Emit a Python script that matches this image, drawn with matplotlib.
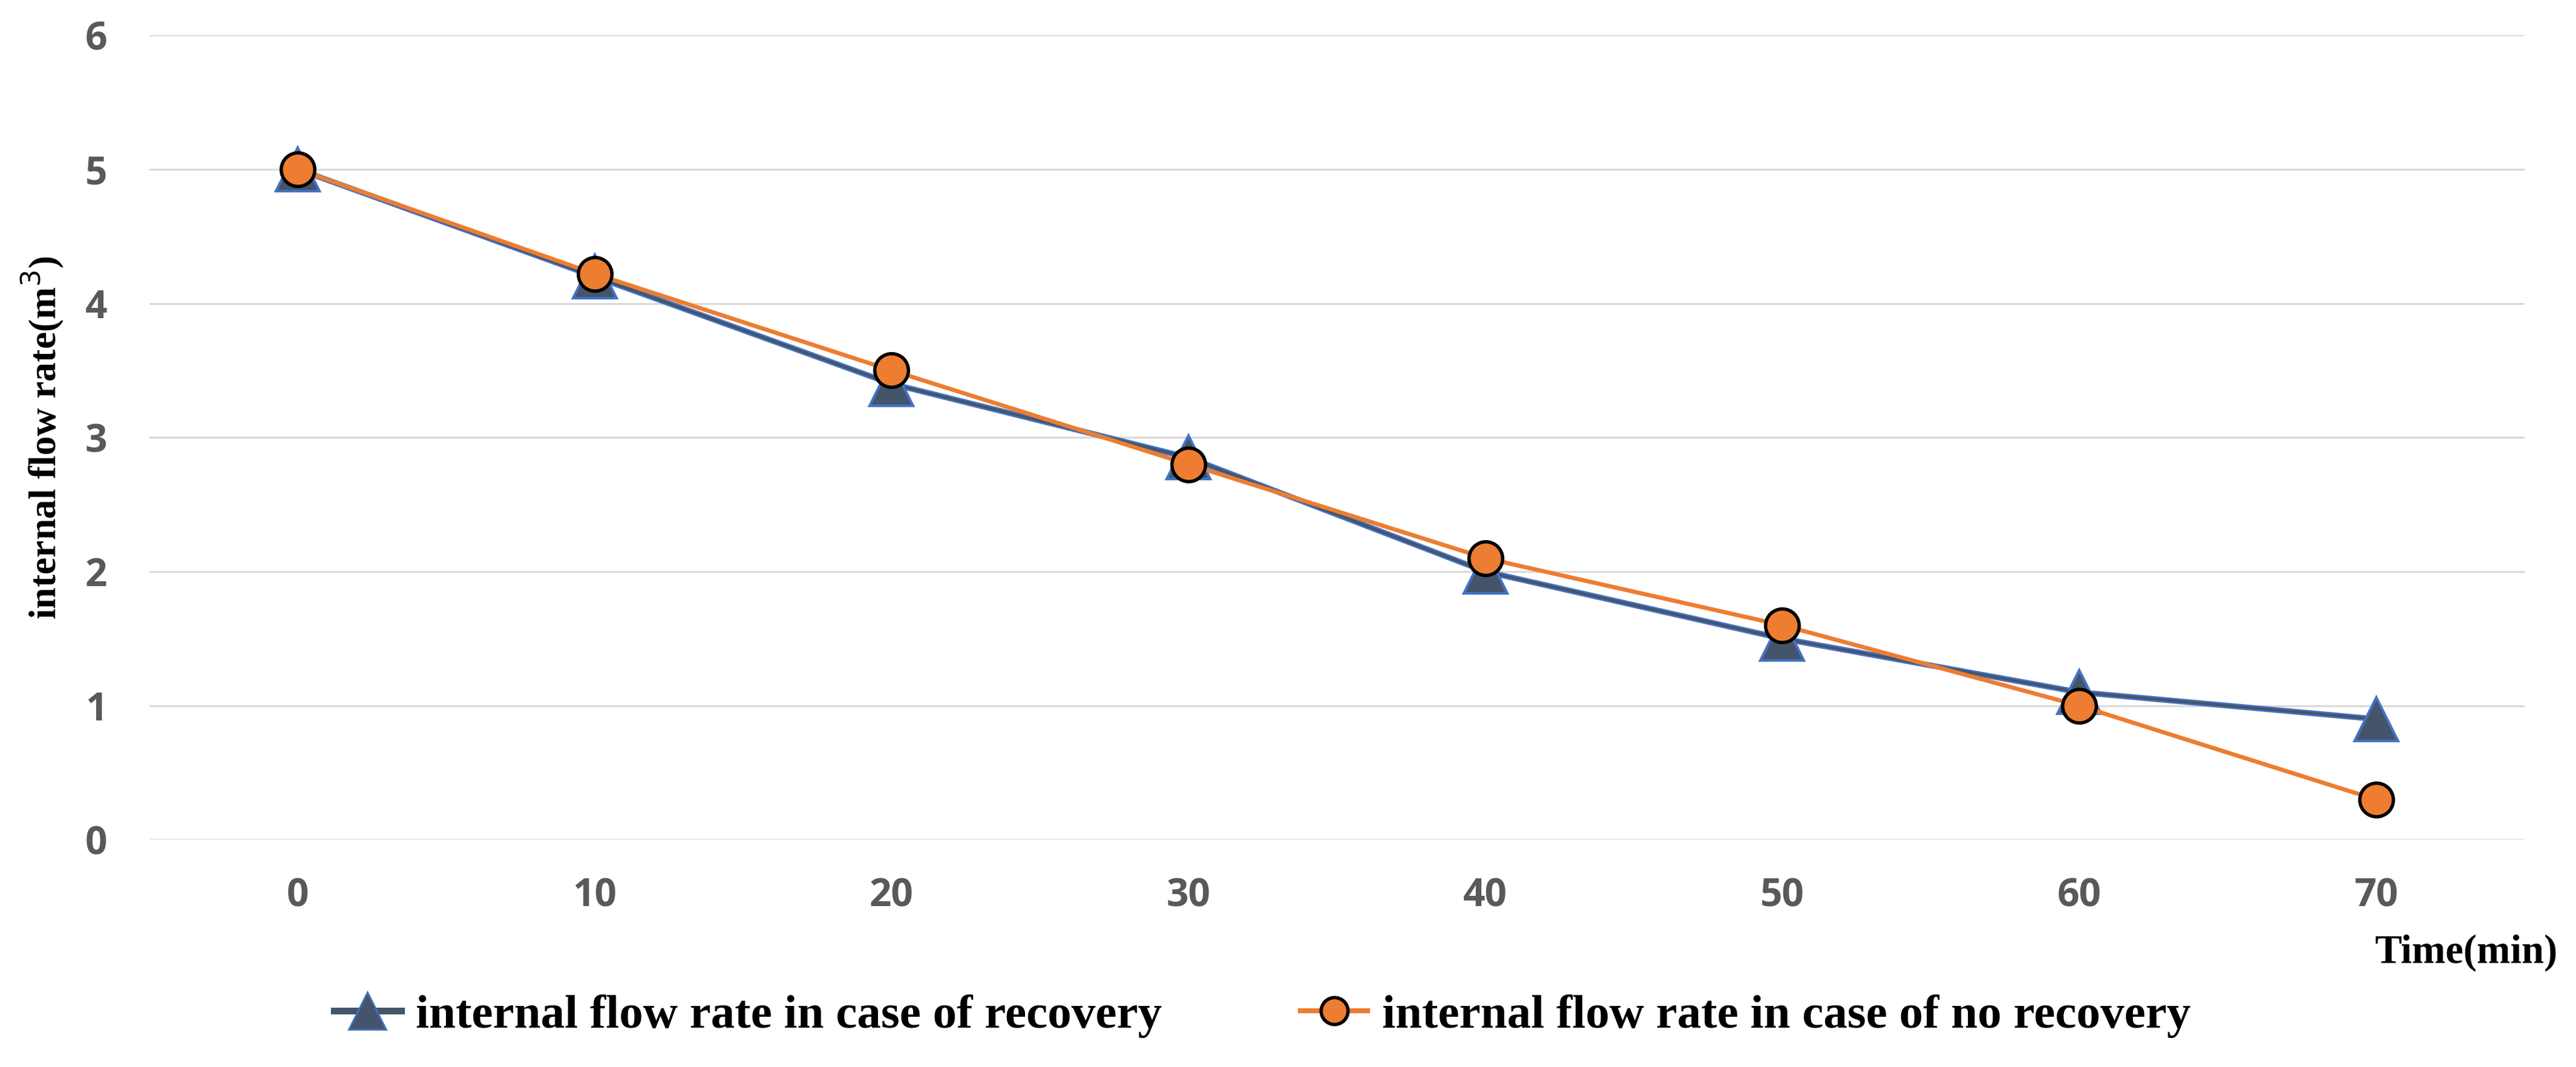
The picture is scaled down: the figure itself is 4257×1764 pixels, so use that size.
import matplotlib.pyplot as plt
import numpy as np

# Data
time_labels = ['0', '10', '20', '30', '40', '50', '60', '70']
recovery = [5.0, 4.2, 3.4, 2.85, 2.0, 1.5, 1.1, 0.9]
no_recovery = [5.0, 4.22, 3.5, 2.8, 2.1, 1.6, 1.0, 0.3]
y_ticks = [0, 1, 2, 3, 4, 5, 6]

x = np.arange(len(time_labels))

fig = plt.figure(figsize=(21.285, 8.82), dpi=200)
ax = fig.add_axes([0.058, 0.213, 0.922, 0.754])

# recovery line: blue edge under a dark slate line
ax.plot(x, recovery, color='#4472C4', linewidth=3.4, zorder=2)
ax.plot(x, recovery, color='#44546A', linewidth=1.6, zorder=2.1)
ax.plot(x, recovery, linestyle='none', marker='^', markersize=26,
        markerfacecolor='#44546A', markeredgecolor='#4472C4', markeredgewidth=1.5, zorder=3)

ax.plot(x, no_recovery, color='#ED7D31', linewidth=2.5, marker='o', markersize=20,
        markerfacecolor='#ED7D31', markeredgecolor='black', markeredgewidth=2.0, zorder=4)

ax.set_xlim(-0.5, len(time_labels) - 0.5)
ax.set_ylim(0, 6)
ax.set_xticks(x)
ax.set_yticks(y_ticks)
ax.set_xticklabels(time_labels, family='Open Sans', fontweight='bold', fontsize=23)
ax.set_yticklabels([str(v) for v in y_ticks], family='Open Sans', fontweight='bold', fontsize=23)
ax.tick_params(length=0, labelcolor='#595959', pad=22)
ax.tick_params(axis='y', pad=25)
ax.grid(axis='y', color='#D9D9D9', linewidth=1.1)
ax.set_axisbelow(True)
for s in ax.spines.values():
    s.set_visible(False)

ax.set_ylabel('internal flow rate(m$^3$)', family='Liberation Serif', fontweight='bold',
              fontsize=23, labelpad=12)
fig.text(0.993, 0.107, 'Time(min)', family='Liberation Serif', fontweight='bold',
         fontsize=24, ha='right', va='center')

# legend handles
h1, = ax.plot([], [], color='#44546A', linewidth=4, marker='^', markersize=22,
              markerfacecolor='#44546A', markeredgecolor='#4472C4')
h2, = ax.plot([], [], color='#ED7D31', linewidth=3, marker='o', markersize=16,
              markerfacecolor='#ED7D31', markeredgecolor='black', markeredgewidth=2)
fig.legend([h1, h2], ['internal flow rate in case of recovery',
                      'internal flow rate in case of no recovery'],
           loc='center', bbox_to_anchor=(0.49, 0.048), ncol=2, frameon=False,
           prop={'family': 'Liberation Serif', 'weight': 'bold', 'size': 28.5},
           handlelength=1.4, handletextpad=0.3, columnspacing=2.9)

fig.savefig('out.png', dpi=200)
